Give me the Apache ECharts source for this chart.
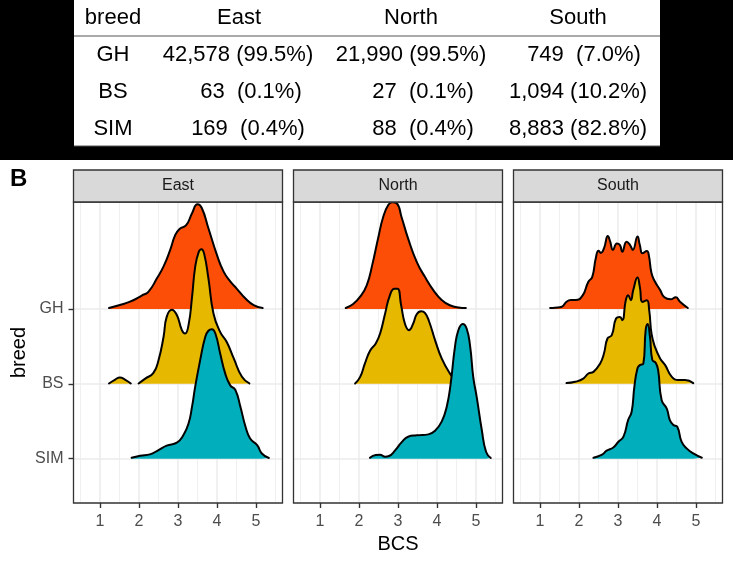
<!DOCTYPE html>
<html><head><meta charset="utf-8">
<style>html,body{margin:0;padding:0;background:#fff}#c{width:733px;height:563px}</style>
<script src="https://cdn.jsdelivr.net/npm/echarts@6/dist/echarts.min.js"></script>
</head><body><div id="c"></div>
<script>
const regions = ['East','North','South'];
const breeds = ['GH','BS','SIM'];
const colors = ['#FC4E07','#E7B800','#00AFBB'];
const tableHeader = ['breed','East','North','South'];
const tableRows = [
  ['GH','42,578 (99.5%)','21,990 (99.5%)','749  (7.0%)'],
  ['BS','63  (0.1%)','27  (0.1%)','1,094 (10.2%)'],
  ['SIM','169  (0.4%)','88  (0.4%)','8,883 (82.8%)']
];
const xTicks = [1,2,3,4,5];
const xMinor = [0.5,1.5,2.5,3.5,4.5,5.5];

// density curves: BCS values and ridge heights
const eastGHx = [1.23,1.51,1.77,2.07,2.24,2.46,2.63,2.80,2.93,3.04,3.21,3.36,3.50,3.61,3.78,4.0,4.17,4.34,4.51,4.73,4.94,5.17];
const eastGHy = [.013,.053,.098,.18,.23,.41,.57,.79,.99,1.07,1.12,1.28,1.40,1.35,1.08,.72,.50,.37,.27,.14,.053,.013];
const eastBSx = [1.23,1.39,1.51,1.64,1.79,1.9,1.99,2.16,2.37,2.50,2.63,2.71,2.84,2.97,3.10,3.18,3.27,3.36,3.44,3.53,3.60,3.67,3.78,3.91,4.08,4.25,4.43,4.64,4.83];
const eastBSy = [.005,.058,.085,.058,.005,null,.005,.07,.147,.316,.63,.895,.99,.92,.717,.673,.784,1.16,1.56,1.76,1.80,1.74,1.41,.94,.695,.56,.34,.094,.005];
const eastSIMx = [1.81,2.03,2.28,2.50,2.71,2.97,3.14,3.27,3.36,3.44,3.57,3.70,3.78,3.87,3.96,4.08,4.21,4.34,4.47,4.60,4.73,4.85,5.03,5.15,5.33];
const eastSIMy = [.013,.04,.058,.116,.174,.214,.316,.47,.695,.96,1.32,1.63,1.71,1.73,1.67,1.41,1.14,.98,.92,.695,.43,.27,.18,.07,.01];
const northGHx = [1.66,1.85,2.03,2.20,2.34,2.50,2.62,2.75,2.85,2.97,3.09,3.26,3.48,3.69,3.91,4.12,4.33,4.55,4.74];
const northGHy = [.013,.067,.165,.32,.59,.97,1.23,1.39,1.425,1.41,1.23,.94,.63,.43,.25,.12,.05,.02,.013];
const northBSx = [1.90,2.03,2.15,2.28,2.43,2.54,2.67,2.79,2.91,2.99,3.08,3.18,3.28,3.39,3.48,3.59,3.69,3.80,3.95,4.12,4.33,4.50,4.63];
const northBSy = [.005,.094,.27,.44,.54,.67,.94,1.18,1.27,1.27,1.05,.80,.717,.806,.93,.97,.95,.83,.585,.34,.14,.03,.005];
const northSIMx = [2.28,2.43,2.54,2.67,2.77,2.92,3.09,3.26,3.48,3.78,3.95,4.12,4.25,4.35,4.46,4.55,4.66,4.76,4.85,4.93,5.02,5.15,5.26,5.38];
const northSIMy = [.013,.05,.053,.027,.036,.107,.218,.294,.312,.325,.374,.495,.695,1.0,1.49,1.72,1.80,1.74,1.50,1.09,.82,.38,.09,.01];
const southGHx = [1.26,1.38,1.56,1.68,1.79,1.91,2.09,2.24,2.34,2.43,2.50,2.56,2.64,2.74,2.80,2.87,2.97,3.05,3.11,3.22,3.31,3.38,3.50,3.56,3.63,3.74,3.79,3.86,3.95,4.08,4.19,4.35,4.48,4.59,4.79];
const southGHy = [.013,.018,.031,.098,.12,.12,.178,.365,.43,.677,.78,.75,.81,.976,.90,.79,.877,.855,.766,.90,.855,.79,.97,.855,.744,.775,.72,.477,.365,.254,.156,.129,.156,.098,.013];
const southBSx = [1.68,1.90,2.11,2.24,2.37,2.54,2.64,2.73,2.84,2.95,3.05,3.11,3.20,3.26,3.33,3.39,3.50,3.56,3.63,3.74,3.80,3.86,3.95,4.08,4.21,4.38,4.55,4.72,4.93];
const southBSy = [.01,.027,.07,.138,.16,.27,.405,.606,.65,.873,.895,.85,1.118,1.185,1.118,1.25,1.42,1.296,1.095,1.118,.985,.67,.49,.34,.25,.094,.05,.05,.01];
const southSIMx = [2.37,2.58,2.71,2.88,3.01,3.14,3.26,3.35,3.42,3.50,3.56,3.65,3.71,3.76,3.82,3.88,3.97,4.03,4.12,4.25,4.33,4.42,4.52,4.63,4.76,4.93,5.15];
const southSIMy = [.013,.05,.107,.15,.227,.294,.517,.628,.963,1.21,1.25,1.27,1.72,1.80,1.63,1.32,1.28,1.18,.78,.67,.517,.45,.427,.227,.138,.07,.013];

const curves = [
  [[eastGHx,eastGHy],[eastBSx,eastBSy],[eastSIMx,eastSIMy]],
  [[northGHx,northGHy],[northBSx,northBSy],[northSIMx,northSIMy]],
  [[southGHx,southGHy],[southBSx,southBSy],[southSIMx,southSIMy]]
];
const baselines = [3,2,1];
const panelLeft = [73.5,293.5,513.5], panelW = 209, panelTop = 202, panelH = 301;
const xMin = 0.32, xMax = 5.68, yMin = 0.408, yMax = 4.43;
const gridCol = '#ebebeb', txt = '#4d4d4d', border = '#333333';

const grid = [], xAxis = [], yAxis = [], series = [], graphic = [];

graphic.push({type:'rect',shape:{x:0,y:0,width:733,height:160},style:{fill:'#000'},silent:true});
graphic.push({type:'rect',shape:{x:74,y:0,width:586,height:146},style:{fill:'#fff'},silent:true});
graphic.push({type:'line',shape:{x1:74,y1:36,x2:660,y2:36},style:{stroke:'#555',lineWidth:1}});
graphic.push({type:'line',shape:{x1:74,y1:146,x2:660,y2:146},style:{stroke:'#555',lineWidth:1}});
const tf = '"Liberation Sans", Arial, sans-serif';
const colCenter = [113,239,411,578];
tableHeader.forEach((t,i)=>graphic.push({type:'text',x:colCenter[i],y:18,style:{text:t,font:'22px '+tf,fill:'#000',textAlign:'center',textVerticalAlign:'middle'}}));
const rowY = [55,92,129];
const cellCenter = [[113,238,411,584],[113,251,423,578],[113,248,423,578]];
tableRows.forEach((r,ri)=>r.forEach((t,ci)=>graphic.push({type:'text',x:cellCenter[ri][ci],y:rowY[ri],style:{text:t,font:'22px '+tf,fill:'#000',textAlign:'center',textVerticalAlign:'middle'}})));
graphic.push({type:'text',x:10,y:179,style:{text:'B',font:'bold 24px '+tf,fill:'#000',textAlign:'left',textVerticalAlign:'middle'}});

regions.forEach((reg,p)=>{
  grid.push({left:panelLeft[p],top:panelTop,width:panelW,height:panelH,show:true,borderWidth:0,backgroundColor:'#fff'});
  graphic.push({type:'rect',z:100,shape:{x:panelLeft[p],y:panelTop,width:panelW,height:panelH},style:{fill:'none',stroke:border,lineWidth:1.3},silent:true});
  graphic.push({type:'rect',z:101,shape:{x:panelLeft[p],y:170,width:panelW,height:32},style:{fill:'#d9d9d9',stroke:border,lineWidth:1.3},silent:true});
  graphic.push({type:'text',z:102,x:panelLeft[p]+panelW/2,y:186,style:{text:reg,font:'16px '+tf,fill:'#1a1a1a',textAlign:'center',textVerticalAlign:'middle'}});
  xAxis.push({gridIndex:p,type:'value',min:xMin,max:xMax,
    name:p===1?'BCS':'',nameLocation:'middle',nameGap:29,nameTextStyle:{fontSize:20,color:'#000',fontFamily:tf},
    axisLine:{show:false},
    axisTick:{show:true,length:5,customValues:xTicks,lineStyle:{color:border,width:1.4}},
    axisLabel:{customValues:xTicks,color:txt,fontSize:16,fontFamily:tf,margin:11},
    splitLine:{show:true,customValues:xTicks,lineStyle:{color:gridCol,width:1.5}}});
  yAxis.push({gridIndex:p,type:'value',min:yMin,max:yMax,
    name:p===0?'breed':'',nameLocation:'middle',nameGap:44,nameRotate:90,nameTextStyle:{fontSize:20,color:'#000',fontFamily:tf},
    axisLine:{show:false},
    axisTick:{show:p===0,length:5,customValues:baselines,lineStyle:{color:border,width:1.4}},
    axisLabel:{show:p===0,customValues:baselines,color:txt,fontSize:16,fontFamily:tf,margin:10,formatter:v=>breeds[baselines.indexOf(Math.round(v))]},
    splitLine:{show:true,customValues:baselines,lineStyle:{color:gridCol,width:1.5}}});
});
regions.forEach((reg,p)=>{
  xAxis.push({gridIndex:p,type:'value',min:xMin,max:xMax,position:'top',
    axisLine:{show:false},
    axisTick:{show:false,customValues:xMinor},
    axisLabel:{show:false,customValues:xMinor},
    splitLine:{show:true,customValues:xMinor,lineStyle:{color:gridCol,width:0.75}}});
});
regions.forEach((reg,p)=>{
  breeds.forEach((b,i)=>{
    const xs = curves[p][i][0], hs = curves[p][i][1], base = baselines[i];
    series.push({type:'line',name:reg+' '+b,xAxisIndex:p,yAxisIndex:p,
      data:xs.map((x,k)=>[x,hs[k]===null?null:base+hs[k]]),
      smooth:0.5,showSymbol:false,symbol:'none',connectNulls:false,
      lineStyle:{color:'#000',width:2,cap:'round',join:'round'},itemStyle:{color:colors[i]},
      areaStyle:{color:colors[i],opacity:1,origin:base},z:2+i,silent:true,animation:false});
  });
});
const chart = echarts.init(document.getElementById('c'),null,{renderer:'canvas'});
chart.setOption({animation:false,backgroundColor:'#fff',textStyle:{fontFamily:tf},grid,xAxis,yAxis,series,graphic});
</script></body></html>
